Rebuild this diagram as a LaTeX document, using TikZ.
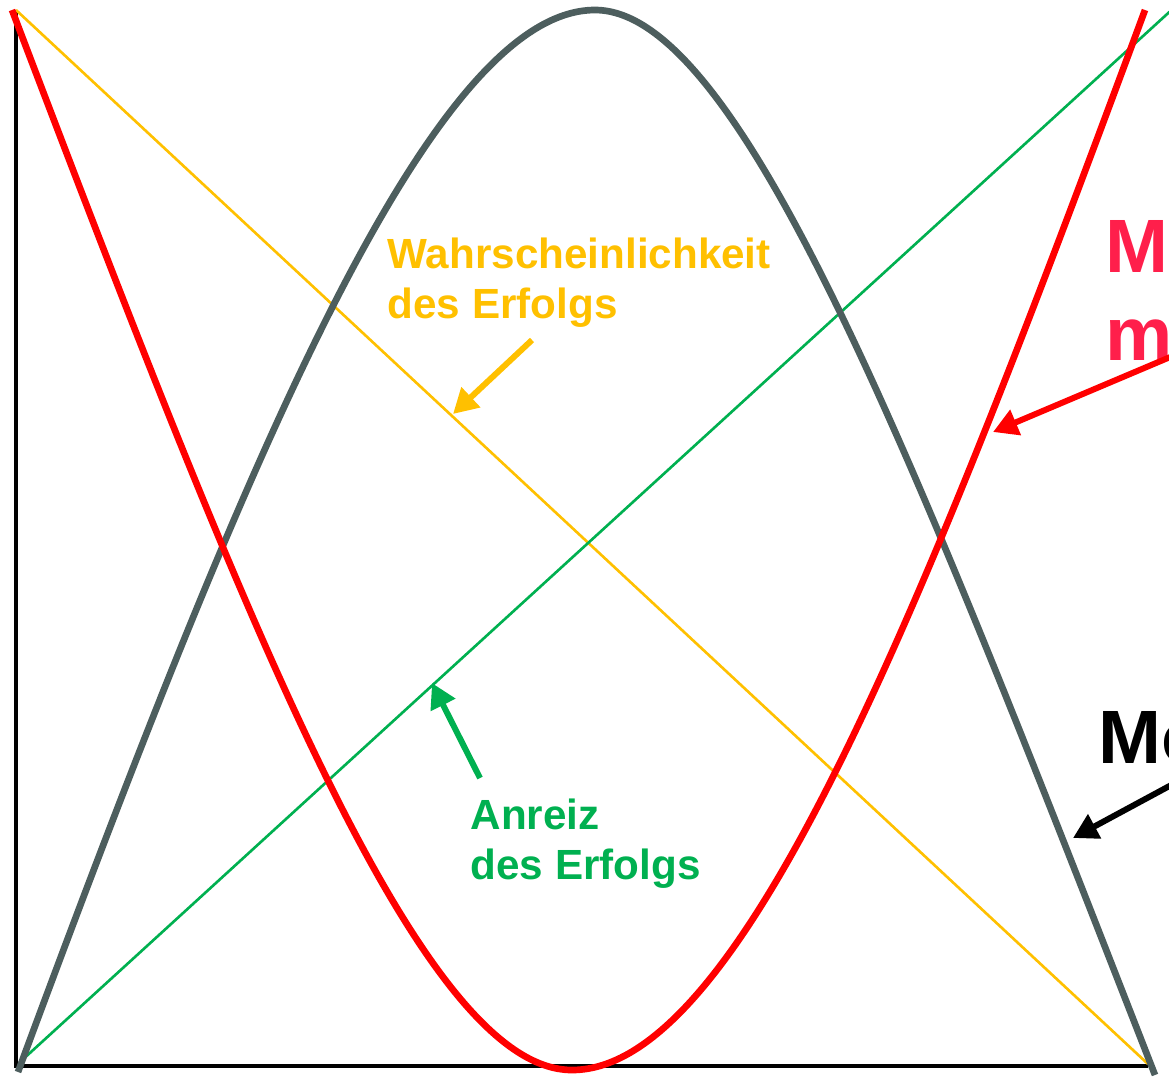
\documentclass[tikz,border=0pt]{standalone}
\usepackage{fontspec}
\setmainfont{Liberation Sans}
\usetikzlibrary{arrows.meta,positioning}

\definecolor{chanceyellow}{HTML}{FFC000}
\definecolor{incentgreen}{HTML}{00B050}
\definecolor{failred}{HTML}{FF0000}
\definecolor{failtext}{HTML}{FF1F4B}
\definecolor{succgray}{HTML}{4D5E5E}

\begin{document}
\begin{tikzpicture}[x=0.01cm,y=-0.01cm,
    lbl/.style={font=\bfseries\fontsize{12}{14}\selectfont, anchor=base west, inner sep=0pt},
    biglbl/.style={font=\bfseries\fontsize{21.5}{25}\selectfont, anchor=base west, inner sep=0pt},
    pointer/.style={line width=1.7pt, -{Triangle[length=7pt,width=7.5pt]}}]
    \useasboundingbox (0,0) rectangle (1169,1078);
    \clip (0,0) rectangle (1169,1078);

    % Axes
    \draw[line width=1.2pt] (16,12) -- (16,1066) -- (1148,1066);

    % Straight lines
    \draw[chanceyellow, line width=0.75pt] (16,10) -- (1148,1064);
    \draw[incentgreen, line width=0.75pt] (20,1062) -- (1200,-16);

    % Curves
    \draw[succgray, line width=1.9pt] (18,1072) .. controls (240,472) and (430,10) .. (595,10)
        .. controls (742,10) and (918,468) .. (1155,1075);
    \draw[failred, line width=1.9pt] (12,10) .. controls (242,615) and (420,1070) .. (572,1070)
        .. controls (742,1070) and (925,605) .. (1145,10);

    % Labels
    \node[lbl, chanceyellow] (prob1) at (387,268) {Wahrscheinlichkeit};
    \node[lbl, chanceyellow] (prob2) at (387,318) {des Erfolgs};
    \node[lbl, incentgreen] (inc1) at (470,829) {Anreiz};
    \node[lbl, incentgreen] (inc2) at (470,879) {des Erfolgs};
    \node[biglbl, failtext] (fail1) at (1105,272) {M};
    \node[biglbl, failtext] (fail2) at (1105,360) {m};
    \node[biglbl] (succ1) at (1098,763) {Mo};

    % Pointer arrows
    \coordinate (probtail) at (532,340);
    \coordinate (probtip) at (453,414);
    \coordinate (inctail) at (480,778);
    \coordinate (inctip) at (432,683);
    \coordinate (failtail) at (1175,355);
    \coordinate (failtip) at (993,432);
    \coordinate (succtail) at (1175,783);
    \coordinate (succtip) at (1073,838);
    \draw[pointer, chanceyellow] (probtail) -- (probtip);
    \draw[pointer, incentgreen] (inctail) -- (inctip);
    \draw[pointer, failred] (failtail) -- (failtip);
    \draw[pointer, black] (succtail) -- (succtip);
\end{tikzpicture}
\end{document}
